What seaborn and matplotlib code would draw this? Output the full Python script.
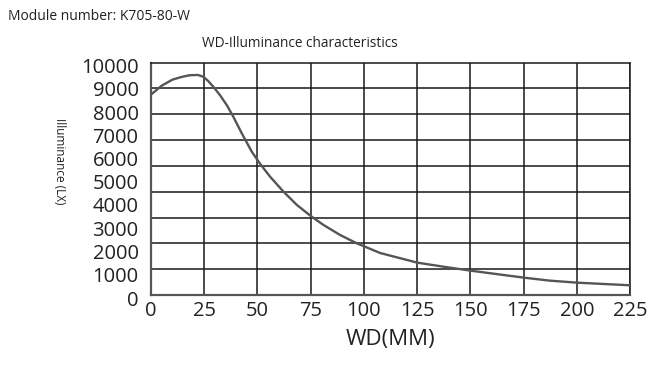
import numpy as np
import pandas as pd
import matplotlib
matplotlib.use("Agg")
import matplotlib.pyplot as plt
import matplotlib.transforms as mtransforms
import seaborn as sns

# Data
wd_mm = [0, 5, 10, 14, 18, 22, 24.6, 26.9, 29.3, 32.4, 35.6, 38.7, 42.6, 47.3,
         51.2, 55.9, 62.2, 68.5, 75, 81, 88.8, 96.6, 107.6, 125.1, 137.4,
         150.2, 164, 175.3, 187.5, 200.3, 225]
illuminance_lx = [8620, 9000, 9260, 9370, 9450, 9465, 9386, 9200, 8954, 8597,
                  8166, 7663, 6961, 6169, 5650, 5093, 4447, 3875, 3401, 3014,
                  2583, 2226, 1808, 1391, 1218, 1046, 880, 745, 616, 530, 418]
x_ticks = [0, 25, 50, 75, 100, 125, 150, 175, 200, 225]
y_ticks = [0, 1000, 2000, 3000, 4000, 5000, 6000, 7000, 8000, 9000, 10000]

df = pd.DataFrame({"WD": wd_mm, "Illuminance": illuminance_lx})

sns.set_theme(style="white")
plt.rcParams["font.family"] = ["Open Sans", "DejaVu Sans"]

W, H = 664, 365
fig = plt.figure(figsize=(W / 100, H / 100), dpi=100)
ax = fig.add_axes([151 / W, 1 - 295 / H, (630 - 151) / W, (295 - 62.5) / H])

sns.lineplot(data=df, x="WD", y="Illuminance", ax=ax, color="#555555",
             linewidth=1.7, zorder=5)
ax.lines[0].set_solid_joinstyle("round")

ax.set_xlim(0, 225)
ax.set_ylim(0, 10000)
ax.set_xticks(x_ticks)
ax.set_xticklabels([str(v) for v in x_ticks])
ax.set_yticks(y_ticks)
ax.set_yticklabels([str(v) for v in y_ticks])
# horizontal grid lines in the reference use 9 equal intervals
ax.set_yticks(np.linspace(0, 10000, 10), minor=True)

ax.grid(False)
ax.xaxis.grid(True, which="major", color="#1a1a1a", linewidth=1.1)
ax.yaxis.grid(True, which="minor", color="#1a1a1a", linewidth=1.1)
ax.tick_params(axis="both", which="both", length=0)
ax.tick_params(axis="x", labelsize=14.5, pad=4, colors="#222222")
ax.tick_params(axis="y", labelsize=14.5, pad=9, colors="#222222")
for sp in ax.spines.values():
    sp.set_color("#1a1a1a")
    sp.set_linewidth(1.1)
ax.spines["left"].set_color("#555555")
ax.spines["bottom"].set_color("#555555")
ax.spines["left"].set_linewidth(1.6)
ax.spines["bottom"].set_linewidth(1.6)

offset = mtransforms.ScaledTranslation(0, -3 / 100, fig.dpi_scale_trans)
for lab in ax.get_yticklabels():
    lab.set_transform(lab.get_transform() + offset)

ax.set_xlabel("WD(MM)", fontsize=16, color="#222222", labelpad=6)
ax.set_ylabel("")

fig.text(59 / W, 1 - 161.5 / H, "Illuminance (LX)", rotation=270,
         ha="center", va="center", fontsize=8.5, color="#222222")
fig.text(8 / W, 1 - 17 / H, "Module number: K705-80-W", ha="left",
         va="center", fontsize=10, color="#222222")
fig.text(299.5 / W, 1 - 43.5 / H, "WD-Illuminance characteristics",
         ha="center", va="center", fontsize=9.8, color="#222222")

fig.savefig("out.png", dpi=100, facecolor="white")
